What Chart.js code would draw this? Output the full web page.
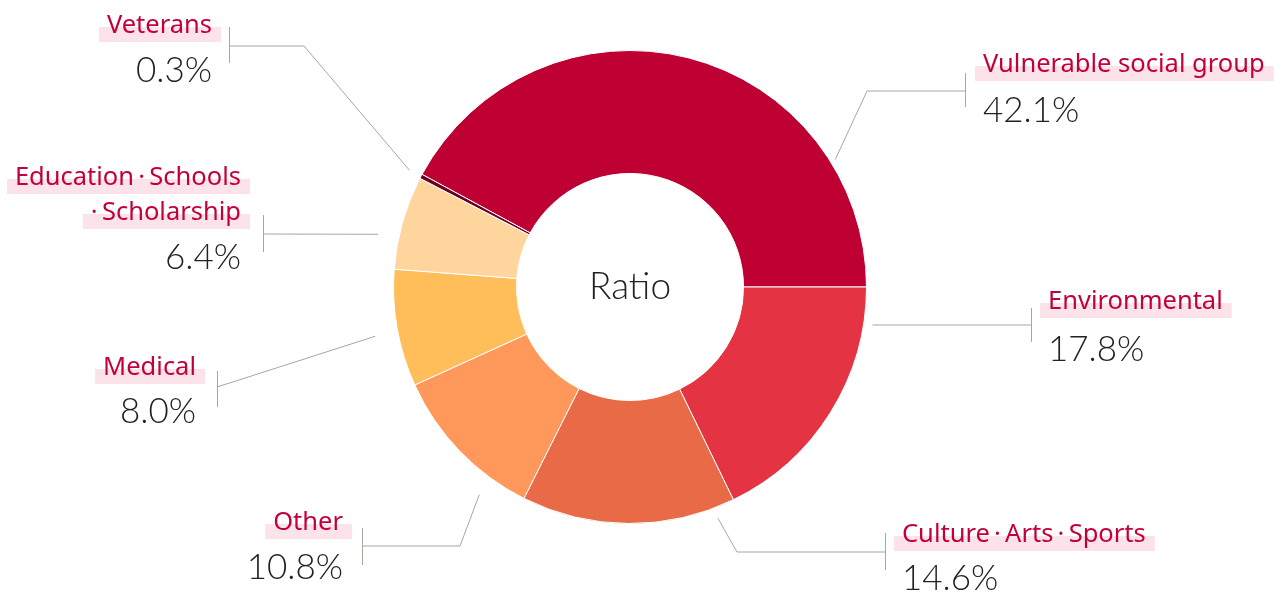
<!DOCTYPE html>
<html>
<head>
<meta charset="utf-8">
<script src="https://cdn.jsdelivr.net/npm/chart.js@4.4.1/dist/chart.umd.min.js"></script>
<style>
  html, body { margin: 0; padding: 0; background: #fff; }
  #wrap { width: 1275px; height: 596px; position: relative; }
</style>
</head>
<body>
<div id="wrap"><canvas id="donut" width="1275" height="596"></canvas></div>
<script>
/* data */
const categories = ['Vulnerable social group', 'Environmental', 'Culture·Arts·Sports', 'Other', 'Medical', 'Education·Schools·Scholarship', 'Veterans'];
const labelLines = [['Vulnerable social group'], ['Environmental'], ['Culture\u2009·\u2009Arts\u2009·\u2009Sports'], ['Other'], ['Medical'], ['Education\u2009·\u2009Schools', '·\u2009Scholarship'], ['Veterans']];
const shares = [42.1, 17.8, 14.6, 10.8, 8.0, 6.4, 0.3];
const centerTitle = 'Ratio';

/* styles */
const sliceColors = ['#be0032', '#e43343', '#e86a47', '#ff985a', '#ffbe5a', '#ffd59e', '#6b0021'];
const LABEL_COLOR = '#c4003a', BAND_COLOR = '#fbe3e9', PCT_COLOR = '#222', LINE_COLOR = '#aaa59f';
const LABEL_FONT = '400 25.5px "Noto Sans", Lato, sans-serif';
const PCT_FONT = '300 35px Lato, "Noto Sans", sans-serif';

/* callout layout, offsets relative to the doughnut centre (style only) */
const callouts = [
  { frac: .79,  gap: 5,  elbow: [237, -196],  tick: [335, -196], span: [-18, 16], side: 'right', tx: 353,  ly: [-215],      py: -165 },
  { frac: .139, gap: 9,  elbow: null,         tick: [401, 38],   span: [-17, 17], side: 'right', tx: 418,  ly: [22],        py: 74 },
  { frac: .097, gap: 11, elbow: [107, 265],   tick: [255, 265],  span: [-19, 18], side: 'right', tx: 272,  ly: [255],       py: 303 },
  { frac: .24,  gap: 20, elbow: [-170, 259],  tick: [-268, 259], span: [-18, 19], side: 'left',  tx: -287, ly: [243],       py: 292 },
  { frac: .47,  gap: 23, elbow: null,         tick: [-413, 100], span: [-16, 20], side: 'left',  tx: -434, ly: [88],        py: 136 },
  { frac: .325, gap: 21, elbow: null,         tick: [-367, -53], span: [-19, 18], side: 'left',  tx: -389, ly: [-102, -67], py: -18 },
  { frac: .5,   gap: 13, elbow: [-326, -241], tick: [-401, -241], span: [-19, 17], side: 'left', tx: -418, ly: [-254],      py: -205 }
];

const calloutPlugin = {
  id: 'callouts',
  afterDraw(chart) {
    const ctx = chart.ctx;
    const arcs = chart.getDatasetMeta(0).data;
    ctx.save();
    arcs.forEach((arc, i) => {
      const c = callouts[i];
      const p = arc.getProps(['x', 'y', 'startAngle', 'endAngle', 'outerRadius'], true);
      const cx = p.x, cy = p.y;
      const a = p.startAngle + c.frac * (p.endAngle - p.startAngle);
      const r = p.outerRadius + c.gap;
      const sx = cx + Math.cos(a) * r, sy = cy + Math.sin(a) * r;
      // leader line
      ctx.strokeStyle = LINE_COLOR; ctx.lineWidth = 1;
      ctx.beginPath();
      ctx.moveTo(sx, sy);
      if (c.elbow) ctx.lineTo(cx + c.elbow[0], cy + c.elbow[1]);
      ctx.lineTo(cx + c.tick[0], cy + c.tick[1]);
      ctx.stroke();
      ctx.beginPath();
      ctx.moveTo(cx + c.tick[0] + .5, cy + c.tick[1] + c.span[0]);
      ctx.lineTo(cx + c.tick[0] + .5, cy + c.tick[1] + c.span[1]);
      ctx.stroke();
      // category label with pink band
      ctx.font = LABEL_FONT;
      ctx.textBaseline = 'alphabetic';
      ctx.textAlign = 'left';
      labelLines[i].forEach((txt, j) => {
        const w = ctx.measureText(txt).width;
        const left = c.side === 'right' ? cx + c.tx : cx + c.tx - w;
        const by = cy + c.ly[j];
        ctx.fillStyle = BAND_COLOR;
        ctx.fillRect(left - 8, by - 6, w + 17, 15);
        ctx.fillStyle = LABEL_COLOR;
        ctx.fillText(txt, left, by);
      });
      // percentage
      ctx.font = PCT_FONT;
      ctx.fillStyle = PCT_COLOR;
      ctx.textAlign = c.side === 'right' ? 'left' : 'right';
      ctx.fillText(shares[i].toFixed(1) + '%', cx + c.tx, cy + c.py);
    });
    // centre title
    const p0 = arcs[0].getProps(['x', 'y'], true);
    ctx.font = '300 37px Lato, "Noto Sans", sans-serif';
    ctx.fillStyle = PCT_COLOR;
    ctx.textAlign = 'center';
    ctx.textBaseline = 'alphabetic';
    ctx.fillText(centerTitle, p0.x, p0.y + 12);
    ctx.restore();
  }
};

new Chart(document.getElementById('donut'), {
  type: 'doughnut',
  data: {
    labels: categories,
    datasets: [{ data: shares, backgroundColor: sliceColors, borderColor: '#fff', borderWidth: 1 }]
  },
  options: {
    responsive: false,
    animation: false,
    rotation: 90 - shares[0] * 3.6,
    cutout: '48%',
    layout: { padding: { left: 393, right: 408, top: 50, bottom: 72 } },
    plugins: { legend: { display: false }, tooltip: { enabled: false } }
  },
  plugins: [calloutPlugin]
});
</script>
</body>
</html>
